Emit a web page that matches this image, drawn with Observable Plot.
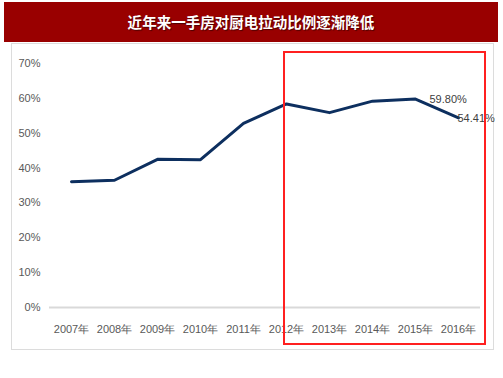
<!DOCTYPE html>
<html><head><meta charset="utf-8">
<script src="https://cdn.jsdelivr.net/npm/d3@7"></script>
<script src="https://cdn.jsdelivr.net/npm/@observablehq/plot@0.6"></script>
<style>
body{margin:0;background:#fff;}
#wrap{position:relative;width:503px;height:378px;overflow:hidden;font-family:"Liberation Sans",Arial,sans-serif;}
#title{position:absolute;left:4px;top:2px;width:494px;height:40px;background:#990000;color:#fff;
  font-family:"Noto Sans CJK SC",sans-serif;font-weight:bold;font-size:17px;line-height:40px;text-align:center;
  text-shadow:1px 1px 1px rgba(0,0,0,0.5);}
#title span{display:inline-block;}
#panel{position:absolute;left:11px;top:43px;width:481px;height:305px;border:1px solid #dcdcdc;}
#chart{position:absolute;left:0;top:43px;}
#box{position:absolute;left:283px;top:51px;width:199px;height:290px;border:2px solid #ff2020;box-sizing:content-box;}
</style></head>
<body><div id="wrap">
<div id="title"><span id="tt">近年来一手房对厨电拉动比例逐渐降低</span></div>
<div id="panel"></div>
<div id="chart"></div>
<div id="box"></div>
</div>
<script>
const years = ["2007年","2008年","2009年","2010年","2011年","2012年","2013年","2014年","2015年","2016年"];
const ratio = [0.361, 0.365, 0.425, 0.424, 0.528, 0.584, 0.559, 0.592, 0.598, 0.5441];
const yTicks = [0, 0.1, 0.2, 0.3, 0.4, 0.5, 0.6, 0.7];
const labelYears = ["2015年", "2016年"];

const data = years.map((y, i) => ({year: y, value: ratio[i]}));
const fmt = v => (v * 100).toFixed(2) + "%";

// fit title width to the reference (~247px)
const tt = document.getElementById("tt");
const w = tt.getBoundingClientRect().width;
if (w > 0) document.getElementById("title").style.fontSize = (17 * 247 / w).toFixed(2) + "px";

const chart = Plot.plot({
  width: 503,
  height: 306,
  marginTop: 20,
  marginBottom: 42,
  marginLeft: 49,
  marginRight: 23,
  style: {fontFamily: "'Liberation Sans', Arial, sans-serif", fontSize: "11px", color: "#595959", background: "transparent"},
  x: {type: "point", domain: years, padding: 0.5, label: null},
  y: {domain: [0, 0.7], label: null},
  marks: [
    Plot.axisY({ticks: yTicks, tickFormat: d => Math.round(d * 100) + "%", tickSize: 0, tickPadding: 9, label: null, fill: "#595959"}),
    Plot.axisX({tickSize: 0, tickPadding: 18, label: null, fill: "#595959"}),
    Plot.ruleY([0], {stroke: "#d9d9d9", strokeWidth: 2}),
    Plot.lineY(data, {x: "year", y: "value", stroke: "#0d2f5f", strokeWidth: 3, strokeLinejoin: "round"}),
    Plot.text(data.filter(d => d.year === labelYears[0]), {x: "year", y: "value", text: d => fmt(d.value), textAnchor: "start", dx: 14, dy: 0, fill: "#404040", fontSize: 11}),
    Plot.text(data.filter(d => d.year === labelYears[1]), {x: "year", y: "value", text: d => fmt(d.value), textAnchor: "start", dx: -1, dy: 1, fill: "#404040", fontSize: 11})
  ]
});
document.getElementById("chart").appendChild(chart);
</script>
</body></html>
